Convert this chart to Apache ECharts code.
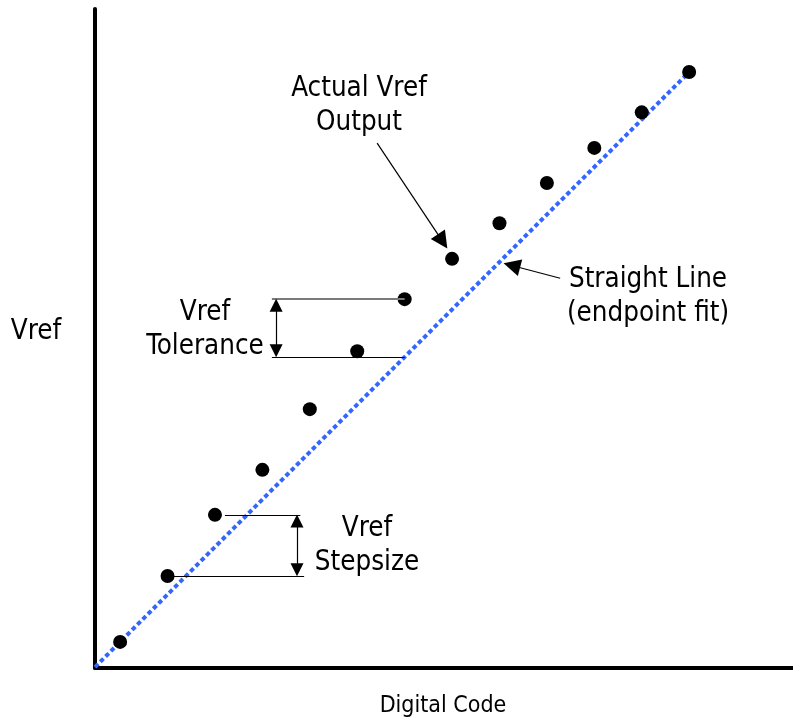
<!DOCTYPE html>
<html lang="en">
<head>
    <meta charset="UTF-8">
    <title>Vref vs Digital Code</title>
    <script src="https://cdn.jsdelivr.net/npm/echarts@6/dist/echarts.min.js"></script>
    <style>
        html, body { margin: 0; padding: 0; background: #fff; }
        #main { width: 793px; height: 721px; }
    </style>
</head>
<body>
<div id="main"></div>
<script type="text/javascript">
    // digital codes and the measured Vref output (units of one ideal step)
    var codes = [0, 1, 2, 3, 4, 5, 6, 7, 8, 9, 10, 11, 12];
    var vrefActual = [0.55, 1.94, 3.23, 4.18, 5.46, 6.68, 7.78, 8.63, 9.38, 10.23, 10.97, 11.72, 12.57];
    var xRange = [-0.53, 14.19];
    var yRange = [0, 13.9];

    var chart = echarts.init(document.getElementById('main'), null, {renderer: 'canvas'});

    // straight line through first and last point (endpoint fit)
    var n = codes.length - 1;
    var slope = (vrefActual[n] - vrefActual[0]) / (codes[n] - codes[0]);
    function fit(x) {
        return vrefActual[0] + slope * (x - codes[0]);
    }
    var fitLine = [[xRange[0], fit(xRange[0])], [codes[n], vrefActual[n]]];

    var family = '"DejaVu Sans Condensed", "Liberation Sans", sans-serif';
    var black = '#000';
    var inset = 0.13; // half an arrow head, in data units

    // tolerance bracket at code 6, stepsize bracket between code 1 and 2
    var tolCode = 6;
    var tolHi = vrefActual[tolCode];
    var tolLo = fit(codes[tolCode]);
    var tolX = 3.29;
    var stepX = 3.73;

    function seg(a, b, color, startSym, endSym, size, width) {
        return [
            {coord: a, symbol: startSym || 'none', symbolSize: size || 10},
            {coord: b, symbol: endSym || 'none', symbolSize: size || 10,
             lineStyle: {color: color || black, width: width || 1.2, type: 'solid'}}
        ];
    }

    function label(text, x, y, size) {
        return {
            type: 'text', x: x, y: y, silent: true,
            style: {text: text, font: (size || 27.5) + 'px ' + family, fill: black,
                    align: 'center', verticalAlign: 'middle', lineHeight: 34}
        };
    }

    var option = {
        animation: false,
        backgroundColor: '#fff',
        grid: {left: 95, right: 0, top: 9, bottom: 53},
        xAxis: {
            type: 'value',
            min: xRange[0],
            max: xRange[1],
            axisLine: {show: true, onZero: false, lineStyle: {color: black, width: 4}},
            axisTick: {show: false},
            axisLabel: {show: false},
            splitLine: {show: false}
        },
        yAxis: {
            type: 'value',
            min: yRange[0],
            max: yRange[1],
            axisLine: {show: true, onZero: false, lineStyle: {color: black, width: 4}},
            axisTick: {show: false},
            axisLabel: {show: false},
            splitLine: {show: false}
        },
        series: [
            {
                name: 'Endpoint fit',
                type: 'line',
                data: fitLine,
                symbol: 'none',
                silent: true,
                z: 3,
                lineStyle: {color: '#3366ff', width: 4, type: [4.5, 3]}
            },
            {
                name: 'Actual Vref',
                type: 'scatter',
                data: codes.map(function (c, i) { return [c, vrefActual[i]]; }),
                symbol: 'circle',
                symbolSize: 14,
                silent: true,
                z: 4,
                itemStyle: {color: black, opacity: 1},
                markLine: {
                    silent: true,
                    symbol: ['none', 'none'],
                    label: {show: false},
                    emphasis: {disabled: true},
                    data: [
                        // tolerance bracket
                        seg([3.2, tolHi], [codes[tolCode], tolHi], '#7a7a7a', null, null, null, 2),
                        seg([3.2, tolLo], [codes[tolCode], tolLo]),
                        seg([tolX, tolHi - inset], [tolX, tolLo + inset], black, 'triangle', 'triangle', 13),
                        // stepsize bracket
                        seg([codes[2] + 0.21, vrefActual[2]], [3.8, vrefActual[2]]),
                        seg([codes[1] + 0.12, vrefActual[1]], [3.88, vrefActual[1]]),
                        seg([stepX, vrefActual[2] - inset], [stepX, vrefActual[1] + inset], black, 'triangle', 'triangle', 13),
                        // pointers
                        seg([5.42, 11.07], [6.8, 9.0], black, 'none', 'triangle', 17),
                        seg([9.28, 8.22], [8.26, 8.49], black, 'none', 'triangle', 17)
                    ]
                }
            }
        ],
        graphic: [
            label('Actual Vref\nOutput', 359, 106),
            label('Straight Line\n(endpoint fit)', 648, 297),
            label('Vref\nTolerance', 205, 330),
            label('Vref\nStepsize', 367, 546),
            label('Vref', 36, 332),
            label('Digital Code', 443, 706, 23)
        ]
    };

    chart.setOption(option);
</script>
</body>
</html>
